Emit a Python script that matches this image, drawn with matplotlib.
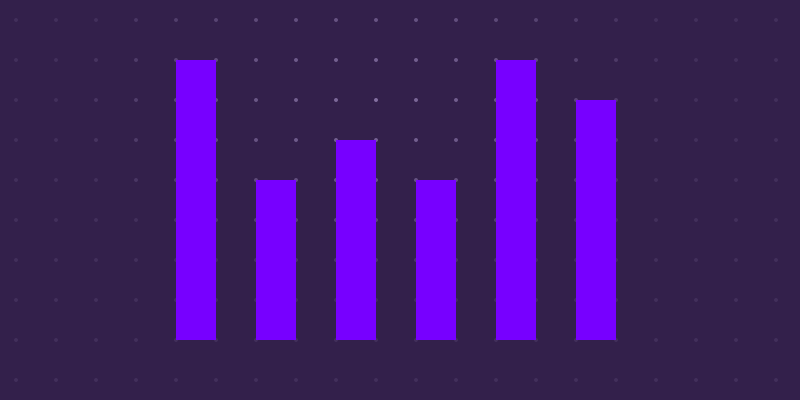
import numpy as np
import matplotlib
matplotlib.use('Agg')
import matplotlib.pyplot as plt

categories = ['A', 'B', 'C', 'D', 'E', 'F']
values = [7, 4, 5, 4, 7, 6]

bg = '#33204b'
bar_color = '#7700ff'

fig = plt.figure(figsize=(8, 4), dpi=100, facecolor=bg)
ax = fig.add_axes([0, 0, 1, 1], facecolor=bg)

x = np.arange(len(categories))

# dotted background grid with a soft glow near the middle
gx = -2.25 + 0.5 * np.arange(20)
gy = np.arange(-1, 9)
GX, GY = np.meshgrid(gx, gy)
d = np.hypot((GX - 2.2) / 3.2, (GY - 6.0) / 4.0)
alpha = np.clip(0.8 - 0.55 * d, 0.15, 0.8)
colors = np.zeros((GX.size, 4))
colors[:, :3] = [0.6, 0.52, 0.72]
colors[:, 3] = alpha.ravel()
ax.scatter(GX.ravel(), GY.ravel(), s=8, c=colors, linewidths=0, zorder=1)

ax.bar(x, values, width=0.5, color=bar_color, zorder=2)

ax.set_xlim(-2.45, 7.55)
ax.set_ylim(-1.5, 8.5)
ax.axis('off')

fig.savefig('out.png', facecolor=bg)
